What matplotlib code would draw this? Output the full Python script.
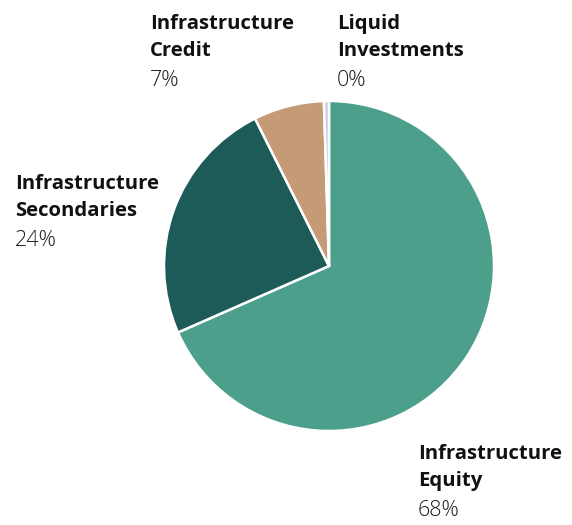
import matplotlib.pyplot as plt

plt.rcParams['font.family'] = ['Open Sans', 'DejaVu Sans']

labels = ['Infrastructure\nEquity', 'Infrastructure\nSecondaries',
          'Infrastructure\nCredit', 'Liquid\nInvestments']
shares = [68.4, 24.2, 6.91, 0.49]
colors = ['#4b9f8b', '#1d5b58', '#c49b76', '#c9ced8']

# label anchor: left edge and first baseline, in pixels
label_pos = [(418, 459), (15, 189), (150, 29), (337, 29)]

W, H = 572, 525
fig = plt.figure(figsize=(W / 100, H / 100), dpi=100)

cx, cy, r = 329, 266, 165
ax = fig.add_axes([(cx - r) / W, (H - cy - r) / H, 2 * r / W, 2 * r / H])
ax.pie(shares, colors=colors, startangle=90, counterclock=False,
       wedgeprops=dict(edgecolor='white', linewidth=1.8))
ax.set_xlim(-1, 1)
ax.set_ylim(-1, 1)
ax.set_aspect('equal')
ax.axis('off')

for lab, val, (x, y) in zip(labels, shares, label_pos):
    lines = lab.split('\n')
    for i, ln in enumerate(lines):
        fig.text(x / W, 1 - (y + i * 27) / H, ln, fontsize=14.6,
                 fontweight='bold', color='#111111', va='baseline', ha='left')
    fig.text(x / W, 1 - (y + 57) / H, f'{round(val)}%',
             fontsize=15.5, fontweight='light', color='#1e1e1e',
             va='baseline', ha='left')

fig.savefig('out.png', dpi=100)
